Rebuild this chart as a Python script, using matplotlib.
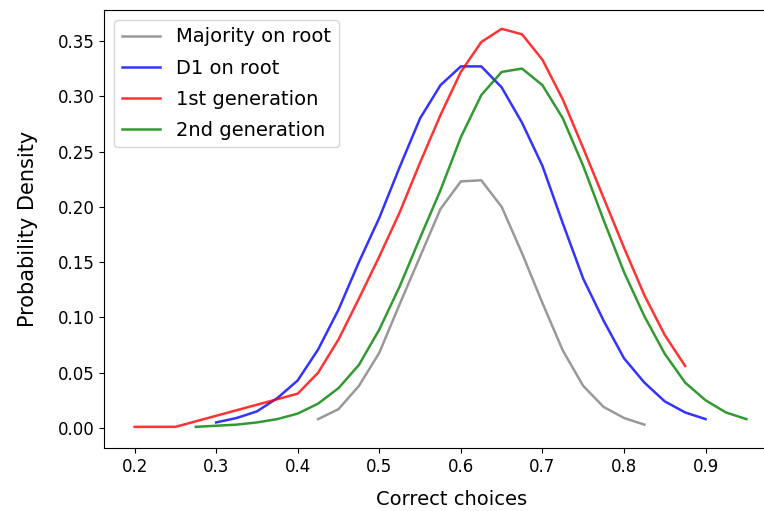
import matplotlib
matplotlib.use("Agg")
import matplotlib.pyplot as plt

x_major = [0.425, 0.45, 0.475, 0.5, 0.525, 0.55, 0.575, 0.6, 0.625, 0.65,
           0.675, 0.7, 0.725, 0.75, 0.775, 0.8, 0.825]
y_major = [0.008, 0.017, 0.038, 0.068, 0.112, 0.155, 0.198, 0.223, 0.224, 0.200,
           0.158, 0.113, 0.070, 0.038, 0.019, 0.009, 0.003]

x_d1 = [0.3, 0.325, 0.35, 0.375, 0.4, 0.425, 0.45, 0.475, 0.5, 0.525, 0.55, 0.575,
        0.6, 0.625, 0.65, 0.675, 0.7, 0.725, 0.75, 0.775, 0.8, 0.825, 0.85, 0.875, 0.9]
y_d1 = [0.005, 0.009, 0.015, 0.027, 0.043, 0.071, 0.107, 0.150, 0.190, 0.236, 0.280, 0.310,
        0.327, 0.327, 0.308, 0.276, 0.237, 0.185, 0.135, 0.097, 0.063, 0.041, 0.024, 0.014, 0.008]

x_gen1 = [0.2, 0.25, 0.4, 0.425, 0.45, 0.475, 0.5, 0.525, 0.55, 0.575, 0.6, 0.625,
          0.65, 0.675, 0.7, 0.725, 0.75, 0.775, 0.8, 0.825, 0.85, 0.875]
y_gen1 = [0.001, 0.001, 0.031, 0.050, 0.080, 0.117, 0.155, 0.195, 0.240, 0.283, 0.322, 0.349,
          0.361, 0.356, 0.333, 0.297, 0.253, 0.208, 0.163, 0.120, 0.084, 0.056]

x_gen2 = [0.275, 0.3, 0.325, 0.35, 0.375, 0.4, 0.425, 0.45, 0.475, 0.5, 0.525, 0.55,
          0.575, 0.6, 0.625, 0.65, 0.675, 0.7, 0.725, 0.75, 0.775, 0.8, 0.825, 0.85,
          0.875, 0.9, 0.925, 0.95]
y_gen2 = [0.001, 0.002, 0.003, 0.005, 0.008, 0.013, 0.022, 0.036, 0.057, 0.089, 0.128, 0.172,
          0.215, 0.263, 0.301, 0.322, 0.325, 0.310, 0.280, 0.237, 0.188, 0.141, 0.101, 0.067,
          0.041, 0.025, 0.014, 0.008]

labels = ["Majority on root", "D1 on root", "1st generation", "2nd generation"]
colors = ["grey", "blue", "red", "green"]

fig = plt.figure(figsize=(7.64, 5.11), dpi=100)
# axes extend past the right edge of the picture (the reference is cropped there)
ax = fig.add_axes([104 / 764, (511 - 448.3) / 511, (800 - 104) / 764, (448.3 - 10) / 511])

series = [(x_major, y_major), (x_d1, y_d1), (x_gen1, y_gen1), (x_gen2, y_gen2)]
for (xs, ys), lab, col in zip(series, labels, colors):
    ax.plot(xs, ys, color=col, alpha=0.8, linewidth=1.8, label=lab)

ax.set_xlim(0.1625, 0.1625 + (800 - 104) / 815.7)
ax.set_ylim(-0.0184, 0.378)
ax.set_xticks([0.2, 0.3, 0.4, 0.5, 0.6, 0.7, 0.8, 0.9])
ax.set_yticks([0.0, 0.05, 0.10, 0.15, 0.20, 0.25, 0.30, 0.35])
ax.set_yticklabels(["0.00", "0.05", "0.10", "0.15", "0.20", "0.25", "0.30", "0.35"])
ax.tick_params(labelsize=12)
ax.set_xlabel("Correct choices", fontsize=14, labelpad=10)
ax.set_ylabel("Probability Density", fontsize=15, labelpad=14)
ax.legend(loc="upper left", fontsize=14, labelspacing=0.62)

fig.savefig("out.png", dpi=100)
